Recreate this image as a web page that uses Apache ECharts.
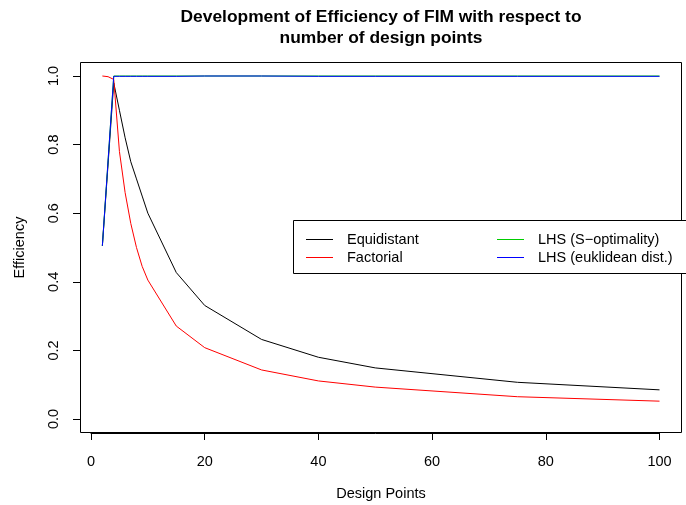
<!DOCTYPE html>
<html>
<head>
<meta charset="utf-8">
<script src="https://cdn.jsdelivr.net/npm/echarts@6/dist/echarts.min.js"></script>
<style>
  html, body { margin: 0; padding: 0; background: #fff; }
  #chart { width: 686px; height: 505px; }
</style>
</head>
<body>
<div id="chart"></div>
<script>
// Efficiency of the Fisher information matrix vs. number of design points
const ptsEquidistant = [2, 4, 5, 6, 7, 8, 9, 10, 15, 20, 30, 40, 50, 75, 100];
const effEquidistant = [0.505, 0.98, 0.90, 0.82, 0.75, 0.70, 0.65, 0.60, 0.427, 0.331, 0.232, 0.180, 0.149, 0.107, 0.085];

const ptsFactorial = [2, 3, 4, 5, 6, 7, 8, 9, 10, 15, 20, 30, 40, 50, 75, 100];
const effFactorial = [1.0, 0.998, 0.99, 0.78, 0.66, 0.57, 0.50, 0.445, 0.405, 0.271, 0.208, 0.143, 0.111, 0.093, 0.065, 0.052];

const ptsLHS = [2, 4, 5, 6, 7, 8, 9, 10, 15, 20, 30, 40, 50, 75, 100];
const effLHSSopt = [0.505, 1.0, 1.0, 1.0, 1.0, 1.0, 1.0, 1.0, 1.0, 1.0, 1.0, 1.0, 1.0, 1.0, 1.0];
const effLHSEukl = [0.505, 0.999, 0.999, 0.999, 0.999, 0.999, 0.999, 0.999, 0.999, 1.0, 1.0, 0.999, 0.999, 0.999, 0.999];

const xTicks = [0, 20, 40, 60, 80, 100];
const yTicks = [0.0, 0.2, 0.4, 0.6, 0.8, 1.0];

const seriesNames = ['Equidistant', 'Factorial', 'LHS (S\u2212optimality)', 'LHS (euklidean dist.)'];
const seriesColors = ['#000000', '#ff0000', '#00cd00', '#0000ff'];

const FONT = '"Liberation Sans", Arial, Helvetica, sans-serif';

function pairs(xs, ys) { return xs.map((x, i) => [x, ys[i]]); }

const chart = echarts.init(document.getElementById('chart'), null, { renderer: 'canvas' });

const mkSeries = (name, xs, ys, color) => ({
  name: name,
  type: 'line',
  data: pairs(xs, ys),
  symbol: 'none',
  showSymbol: false,
  clip: false,
  animation: false,
  lineStyle: { color: color, width: 1 },
  itemStyle: { color: color }
});

// Two-column key inside a framed box: line sample + label per series
const keyColumnsX = [306, 497];
const keyRowsY = [239.5, 257.5];
const keyElements = [];
seriesNames.forEach((name, i) => {
  const cx = keyColumnsX[Math.floor(i / 2)];
  const cy = keyRowsY[i % 2];
  keyElements.push({
    type: 'line', z: 10, silent: true,
    shape: { x1: cx, y1: cy, x2: cx + 27, y2: cy },
    style: { stroke: seriesColors[i], lineWidth: 1 }
  });
  keyElements.push({
    type: 'text', z: 10, silent: true, x: cx + 41, y: cy,
    style: { text: name, fontFamily: FONT, fontSize: 14.5, fill: '#000',
             align: 'left', verticalAlign: 'middle' }
  });
});

chart.setOption({
  animation: false,
  backgroundColor: '#ffffff',
  grid: { left: 91, right: 26.5, top: 76, bottom: 86, containLabel: false },
  xAxis: {
    type: 'value',
    min: 0, max: 100, interval: 20,
    offset: 14,
    axisLine: { show: true, onZero: false, lineStyle: { color: '#000', width: 1 } },
    axisTick: { show: true, length: 7, lineStyle: { color: '#000' } },
    axisLabel: {
      fontFamily: FONT, fontSize: 14.5, color: '#000', margin: 21,
      customValues: xTicks,
      formatter: v => String(v)
    },
    splitLine: { show: false }
  },
  yAxis: {
    type: 'value',
    min: 0, max: 1, interval: 0.2,
    offset: 11,
    axisLine: { show: true, onZero: false, lineStyle: { color: '#000', width: 1 } },
    axisTick: { show: true, length: 7, lineStyle: { color: '#000' } },
    axisLabel: {
      fontFamily: FONT, fontSize: 14.5, color: '#000', margin: 19, rotate: 90,
      formatter: v => v.toFixed(1)
    },
    splitLine: { show: false }
  },
  graphic: [
    // plot frame
    { type: 'rect', shape: { x: 80.5, y: 62.5, width: 601, height: 370 },
      style: { fill: 'none', stroke: '#000', lineWidth: 1 }, z: 5, silent: true },
    // key box
    { type: 'rect', shape: { x: 293.5, y: 220.5, width: 400, height: 53 },
      style: { fill: '#fff', stroke: '#000', lineWidth: 1 }, z: 6, silent: true },
    ...keyElements,
    // title
    { type: 'text', x: 381, y: 17, z: 10,
      style: { text: 'Development of Efficiency of FIM with respect to', fontFamily: FONT,
               fontSize: 17.4, fontWeight: 'bold', fill: '#000', align: 'center', verticalAlign: 'middle' } },
    { type: 'text', x: 381, y: 38, z: 10,
      style: { text: 'number of design points', fontFamily: FONT,
               fontSize: 17.4, fontWeight: 'bold', fill: '#000', align: 'center', verticalAlign: 'middle' } },
    // axis titles
    { type: 'text', x: 381, y: 494, z: 10,
      style: { text: 'Design Points', fontFamily: FONT, fontSize: 14.5, fill: '#000',
               align: 'center', verticalAlign: 'middle' } },
    { type: 'text', x: 20, y: 247.5, rotation: Math.PI / 2, z: 10,
      style: { text: 'Efficiency', fontFamily: FONT, fontSize: 14.5, fill: '#000',
               align: 'center', verticalAlign: 'middle' } }
  ],
  series: [
    mkSeries(seriesNames[0], ptsEquidistant, effEquidistant, seriesColors[0]),
    mkSeries(seriesNames[1], ptsFactorial, effFactorial, seriesColors[1]),
    mkSeries(seriesNames[2], ptsLHS, effLHSSopt, seriesColors[2]),
    mkSeries(seriesNames[3], ptsLHS, effLHSEukl, seriesColors[3])
  ]
});
</script>
</body>
</html>
